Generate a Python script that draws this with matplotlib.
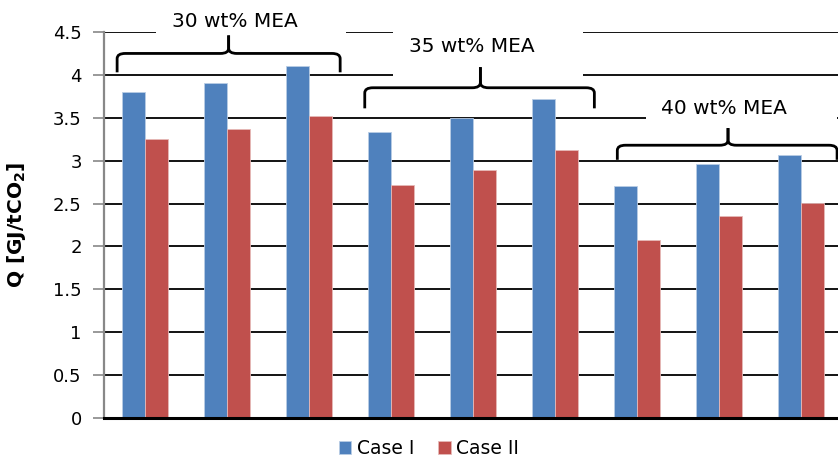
import matplotlib.pyplot as plt
from matplotlib.path import Path
from matplotlib.patches import PathPatch, Rectangle
import numpy as np

# --------------------------------------------------------------------
# data
case1 = [3.80, 3.91, 4.10, 3.34, 3.50, 3.72, 2.70, 2.96, 3.07]
case2 = [3.25, 3.37, 3.52, 2.72, 2.89, 3.13, 2.08, 2.35, 2.51]
series_names = ["Case I", "Case II"]
group_labels = ["30 wt% MEA", "35 wt% MEA", "40 wt% MEA"]
yticks = [0, 0.5, 1, 1.5, 2, 2.5, 3, 3.5, 4, 4.5]
ytick_labels = ["0", "0.5", "1", "1.5", "2", "2.5", "3", "3.5", "4", "4.5"]

BLUE = "#4F81BD"
RED = "#C0504D"

plt.rcParams["font.family"] = ["DejaVu Sans"]


def brace(ax, x0, x1, ybase, ymid, ytip, xc, rx=0.1, ry=0.06):
    left = [
        (x0, ybase), (x0, ymid - ry), (x0, ymid), (x0 + rx, ymid),
        (xc - rx, ymid), (xc, ymid), (xc, ymid + ry), (xc, ytip),
    ]
    right = [
        (xc, ytip), (xc, ymid + ry), (xc, ymid), (xc + rx, ymid),
        (x1 - rx, ymid), (x1, ymid), (x1, ymid - ry), (x1, ybase),
    ]
    codes = [Path.MOVETO, Path.LINETO, Path.CURVE3, Path.CURVE3,
             Path.LINETO, Path.CURVE3, Path.CURVE3, Path.LINETO]
    for pts in (left, right):
        ax.add_patch(PathPatch(Path(pts, codes), fill=False, lw=2.0,
                               color="black", clip_on=False, zorder=6,
                               capstyle="butt"))


fig = plt.figure(figsize=(8.38, 4.59), dpi=100)
ax = fig.add_axes([104 / 838, 41 / 459, 738 / 838, 386 / 459])

x = np.arange(len(case1))
w = 0.28
ax.bar(x - w / 2, case1, w, color=BLUE, edgecolor="#B9CDE5", linewidth=0.6,
       label=series_names[0], zorder=3)
ax.bar(x + w / 2, case2, w, color=RED, edgecolor="#E6B9B8", linewidth=0.6,
       label=series_names[1], zorder=3)

ax.set_xlim(-0.5, 8.5)
ax.set_ylim(0, 4.5)
ax.set_yticks(yticks)
ax.set_yticklabels(ytick_labels, fontsize=13)
ax.set_xticks([])
ax.yaxis.grid(True, color="black", lw=1.3, zorder=0)
ax.set_axisbelow(True)
ax.tick_params(axis="y", length=8, width=1.2, color="#888888", pad=8)

for s in ["top", "right"]:
    ax.spines[s].set_visible(False)
ax.spines["left"].set_color("#888888")
ax.spines["left"].set_linewidth(1.6)
ax.spines["left"].set_zorder(4)
ax.spines["bottom"].set_color("black")
ax.spines["bottom"].set_linewidth(2.2)
ax.spines["bottom"].set_zorder(4)

ax.set_ylabel(r"Q [GJ/tCO$_{\mathbf{2}}$]", fontsize=14.5, fontweight="bold",
              labelpad=18)

# white text boxes hiding the gridlines, like the Excel callouts
boxes = [(0.13, 4.36, 2.32, 0.45), (3.02, 3.92, 2.32, 0.65), (6.11, 3.42, 2.33, 0.45)]
for bx, by, bw, bh in boxes:
    ax.add_patch(Rectangle((bx, by), bw, bh, facecolor="white", edgecolor="none",
                           zorder=2, clip_on=False))

label_pos = [(1.09, 4.62), (3.98, 4.33), (7.06, 3.61)]
for (tx, ty), lab in zip(label_pos, group_labels):
    ax.text(tx, ty, lab, ha="center", va="center", fontsize=14.5, zorder=7,
            clip_on=False)

brace(ax, -0.34, 2.38, 4.03, 4.25, 4.46, 1.02)
brace(ax, 2.68, 5.48, 3.61, 3.85, 4.09, 4.09)
brace(ax, 5.76, 8.44, 3.01, 3.18, 3.38, 7.11)

fig.legend(loc="lower center", bbox_to_anchor=(0.512, -0.035), ncol=2,
           frameon=False, fontsize=13.5, handlelength=0.65, handleheight=0.65,
           handletextpad=0.3, columnspacing=1.3)

fig.savefig("out.png", dpi=100)
